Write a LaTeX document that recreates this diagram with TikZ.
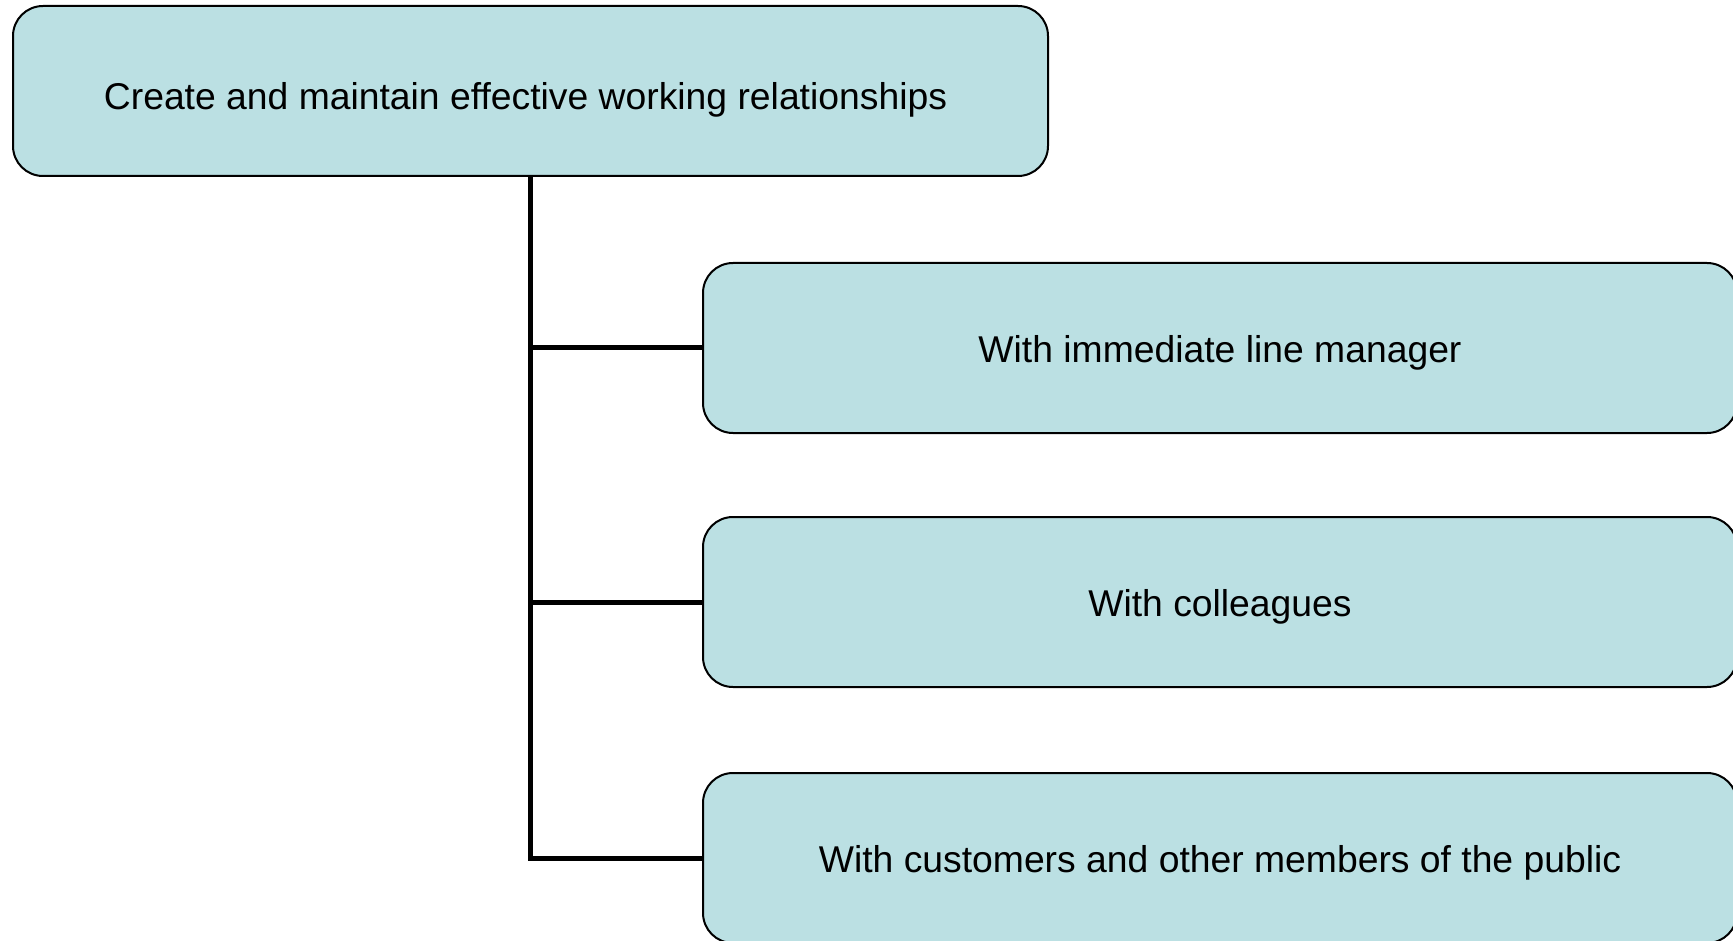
\documentclass[tikz,border=0pt]{standalone}
\usepackage{fontspec}
\setmainfont{Liberation Sans}
\definecolor{boxfill}{HTML}{BBE0E3}
\begin{document}
\begin{tikzpicture}[x=1pt,y=-1pt,
  box/.style={draw=black, line width=2pt, fill=boxfill, rounded corners=30pt, inner sep=0pt,
    minimum height=170pt, text depth=8pt, text height=37.2pt, font=\fontsize{37.3}{44}\selectfont},
  link/.style={line width=5pt, line join=miter}]
\useasboundingbox (0,0) rectangle (1733,941);
\clip (0,0) rectangle (1733,941);
\node[box, minimum width=1035pt, text height=45pt] (top) at (530.5,91) {Create and maintain effective working relationships\hspace*{10pt}};
\node[box, minimum width=1034pt] (c1) at (1220,348) {With immediate line manager};
\node[box, minimum width=1034pt] (c2) at (1220,602) {With colleagues};
\node[box, minimum width=1034pt] (c3) at (1220,858) {With customers and other members of the public};
\draw[link] (top.south) |- (c3.west);
\draw[link] (top.south |- c1.west) -- (c1.west);
\draw[link] (top.south |- c2.west) -- (c2.west);
\end{tikzpicture}
\end{document}
